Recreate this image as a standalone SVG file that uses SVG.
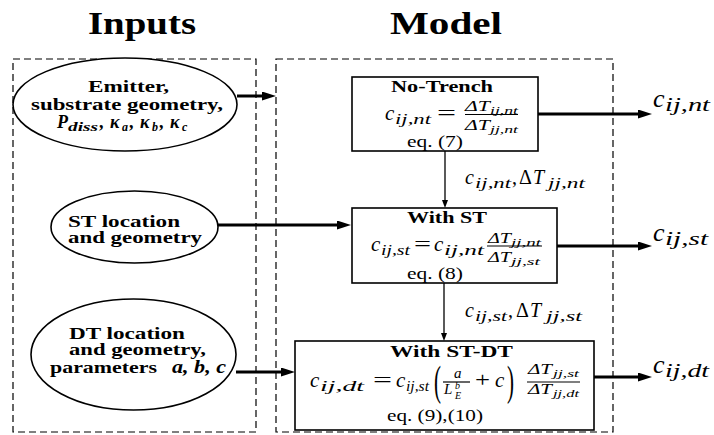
<svg xmlns="http://www.w3.org/2000/svg" width="714" height="435" viewBox="0 0 714 435" font-family="'Liberation Serif', 'DejaVu Serif', serif">
<style>
text{font-family:'Liberation Serif','DejaVu Serif','Noto Serif',Times,serif;fill:#000}
.b{font-weight:bold}
.i{font-style:italic}
.bi{font-weight:bold;font-style:italic}
.dash{fill:none;stroke:#000;stroke-width:1.2;stroke-dasharray:7 4}
.node{fill:#fff;stroke:#000;stroke-width:1.6}
.thick{stroke:#000;stroke-width:3;fill:none}
.thin{stroke:#000;stroke-width:1.3;fill:none}
.bar{stroke:#000;stroke-width:1.2}
</style>
<defs>
<marker id="ah" markerUnits="userSpaceOnUse" markerWidth="14" markerHeight="10" refX="0" refY="4.5" orient="auto">
<path d="M0,0 L14,4.5 L0,9 z" fill="#000"/>
</marker>
<marker id="ahs" markerUnits="userSpaceOnUse" markerWidth="8" markerHeight="7" refX="0" refY="3" orient="auto">
<path d="M0,0 L8,3 L0,6 z" fill="#000"/>
</marker>
</defs>

<rect width="714" height="435" fill="#fff"/>

<g id="titles">
<text class="b" x="88" y="34" font-size="32" textLength="108" lengthAdjust="spacingAndGlyphs">Inputs</text>
<text class="b" x="390" y="34" font-size="32" textLength="112" lengthAdjust="spacingAndGlyphs">Model</text>
</g>

<g id="frames">
<rect class="dash" x="13" y="59" width="243" height="373"/>
<rect class="dash" x="276" y="59" width="337" height="373"/>
</g>

<g id="in-emitter">
<ellipse class="node" cx="125" cy="104.5" rx="112" ry="46.5"/>
<text class="b" x="88" y="92" font-size="16" textLength="81" lengthAdjust="spacingAndGlyphs">Emitter,</text>
<text class="b" x="31" y="110" font-size="16" textLength="192" lengthAdjust="spacingAndGlyphs">substrate geometry,</text>
<text class="bi" x="57" y="128" font-size="18">P</text>
<text class="bi" x="68" y="131" font-size="12" textLength="30" lengthAdjust="spacingAndGlyphs">diss</text>
<text class="b" x="99" y="128" font-size="18">,</text>
<text class="bi" x="110" y="128" font-size="18">κ</text>
<text class="bi" x="122" y="131" font-size="12">a</text>
<text class="b" x="129" y="128" font-size="18">,</text>
<text class="bi" x="140" y="128" font-size="18">κ</text>
<text class="bi" x="152" y="131" font-size="12">b</text>
<text class="b" x="159" y="128" font-size="18">,</text>
<text class="bi" x="170" y="128" font-size="18">κ</text>
<text class="bi" x="182" y="131" font-size="12">c</text>
</g>

<g id="in-st">
<ellipse class="node" cx="134.5" cy="227" rx="83.5" ry="36"/>
<text class="b" x="68" y="227" font-size="16" textLength="112" lengthAdjust="spacingAndGlyphs">ST location</text>
<text class="b" x="68" y="243" font-size="16" textLength="134" lengthAdjust="spacingAndGlyphs">and geometry</text>
</g>

<g id="in-dt">
<ellipse class="node" cx="133.5" cy="354.5" rx="102.5" ry="55.5"/>
<text class="b" x="69" y="339" font-size="16" textLength="116" lengthAdjust="spacingAndGlyphs">DT location</text>
<text class="b" x="69" y="355" font-size="16" textLength="137" lengthAdjust="spacingAndGlyphs">and geometry,</text>
<text class="b" x="50" y="373" font-size="16" textLength="107" lengthAdjust="spacingAndGlyphs">parameters</text>
<text class="bi" x="172" y="373" font-size="18" textLength="54" lengthAdjust="spacingAndGlyphs">a, b, c</text>
</g>

<g id="no-trench">
<rect class="node" x="352" y="77" width="186" height="74"/>
<text class="b" x="391" y="92" font-size="17" textLength="102" lengthAdjust="spacingAndGlyphs">No-Trench</text>
<text class="i" x="385" y="120" font-size="21">c</text>
<text class="i" x="395" y="124" font-size="14" textLength="36" lengthAdjust="spacingAndGlyphs">ij,nt</text>
<text x="437" y="120" font-size="21" textLength="19" lengthAdjust="spacingAndGlyphs">=</text>
<text class="i" x="465" y="111" font-size="15" textLength="25" lengthAdjust="spacingAndGlyphs">ΔT</text>
<text class="i" x="490" y="114" font-size="11" textLength="28" lengthAdjust="spacingAndGlyphs">ij,nt</text>
<line class="bar" x1="465" y1="114.5" x2="518" y2="114.5"/>
<text class="i" x="465" y="130" font-size="15" textLength="25" lengthAdjust="spacingAndGlyphs">ΔT</text>
<text class="i" x="490" y="133" font-size="11" textLength="28" lengthAdjust="spacingAndGlyphs">jj,nt</text>
<text x="407" y="147" font-size="17" textLength="56" lengthAdjust="spacingAndGlyphs">eq.  (7)</text>
</g>

<g id="with-st">
<rect class="node" x="352" y="208" width="205" height="75"/>
<text class="b" x="407" y="223" font-size="17" textLength="80" lengthAdjust="spacingAndGlyphs">With ST</text>
<text class="i" x="371" y="251" font-size="21">c</text>
<text class="i" x="381" y="255" font-size="14" textLength="29" lengthAdjust="spacingAndGlyphs">ij,st</text>
<text x="414" y="251" font-size="21" textLength="17" lengthAdjust="spacingAndGlyphs">=</text>
<text class="i" x="434" y="251" font-size="21">c</text>
<text class="i" x="444" y="255" font-size="14" textLength="40" lengthAdjust="spacingAndGlyphs">ij,nt</text>
<text class="i" x="488" y="242.5" font-size="15" textLength="23" lengthAdjust="spacingAndGlyphs">ΔT</text>
<text class="i" x="511" y="245.5" font-size="11" textLength="30" lengthAdjust="spacingAndGlyphs">jj,nt</text>
<line class="bar" x1="487" y1="246" x2="542" y2="246"/>
<text class="i" x="488" y="261.5" font-size="15" textLength="23" lengthAdjust="spacingAndGlyphs">ΔT</text>
<text class="i" x="511" y="264.5" font-size="11" textLength="29" lengthAdjust="spacingAndGlyphs">jj,st</text>
<text x="407" y="279" font-size="17" textLength="56" lengthAdjust="spacingAndGlyphs">eq.  (8)</text>
</g>

<g id="with-st-dt">
<rect class="node" x="295" y="341" width="299" height="89"/>
<text class="b" x="390" y="357" font-size="17" textLength="123" lengthAdjust="spacingAndGlyphs">With ST-DT</text>
<text class="i" x="310" y="387" font-size="21">c</text>
<text class="i" x="320" y="391" font-size="14" textLength="44" lengthAdjust="spacingAndGlyphs">ij,dt</text>
<text x="373" y="387" font-size="21" textLength="19" lengthAdjust="spacingAndGlyphs">=</text>
<text class="i" x="396" y="387" font-size="21">c</text>
<text class="i" x="406" y="391" font-size="14" textLength="23" lengthAdjust="spacingAndGlyphs">ij,st</text>
<text x="0" y="0" font-size="42" transform="translate(434,395) scale(0.5,1)">(</text>
<text class="i" x="454" y="378" font-size="15">a</text>
<line class="bar" x1="443" y1="382" x2="470" y2="382"/>
<text class="i" x="444" y="394" font-size="15">L</text>
<text class="i" x="455" y="389" font-size="10">b</text>
<text class="i" x="455" y="399" font-size="10">E</text>
<text x="475" y="387" font-size="21" textLength="15" lengthAdjust="spacingAndGlyphs">+</text>
<text class="i" x="495" y="387" font-size="21">c</text>
<text x="0" y="0" font-size="42" transform="translate(507,395) scale(0.5,1)">)</text>
<text class="i" x="528" y="374" font-size="15" textLength="24" lengthAdjust="spacingAndGlyphs">ΔT</text>
<text class="i" x="553" y="377" font-size="11" textLength="26" lengthAdjust="spacingAndGlyphs">jj,st</text>
<line class="bar" x1="527" y1="382" x2="580" y2="382"/>
<text class="i" x="528" y="394" font-size="15" textLength="24" lengthAdjust="spacingAndGlyphs">ΔT</text>
<text class="i" x="553" y="397" font-size="11" textLength="26" lengthAdjust="spacingAndGlyphs">jj,dt</text>
<text x="387" y="421" font-size="17" textLength="96" lengthAdjust="spacingAndGlyphs">eq.  (9),(10)</text>
</g>

<g id="connectors">
<line class="thick" x1="237" y1="96" x2="262" y2="96" marker-end="url(#ah)"/>
<line class="thick" x1="218" y1="225" x2="337" y2="225" marker-end="url(#ah)"/>
<line class="thick" x1="236" y1="372" x2="281" y2="372" marker-end="url(#ah)"/>
<line class="thick" x1="538" y1="114" x2="638" y2="114" marker-end="url(#ah)"/>
<line class="thick" x1="557" y1="246" x2="638" y2="246" marker-end="url(#ah)"/>
<line class="thick" x1="594" y1="377" x2="638" y2="377" marker-end="url(#ah)"/>
<line class="thin" x1="445" y1="151" x2="445" y2="200" marker-end="url(#ahs)"/>
<line class="thin" x1="444" y1="283" x2="444" y2="333" marker-end="url(#ahs)"/>

<text class="i" x="465" y="184" font-size="20">c</text>
<text class="i" x="475" y="188" font-size="14" textLength="36" lengthAdjust="spacingAndGlyphs">ij,nt</text>
<text x="512" y="184" font-size="20">,</text>
<text x="519" y="184" font-size="20">Δ</text>
<text class="i" x="533" y="184" font-size="20">T</text>
<text class="i" x="548" y="188" font-size="14" textLength="37" lengthAdjust="spacingAndGlyphs">jj,nt</text>

<text class="i" x="465" y="317" font-size="20">c</text>
<text class="i" x="475" y="321" font-size="14" textLength="32" lengthAdjust="spacingAndGlyphs">ij,st</text>
<text x="508" y="317" font-size="20">,</text>
<text x="516" y="317" font-size="20">Δ</text>
<text class="i" x="530" y="317" font-size="20">T</text>
<text class="i" x="546" y="321" font-size="14" textLength="36" lengthAdjust="spacingAndGlyphs">jj,st</text>

<text class="i" x="653" y="107" font-size="26">c</text>
<text class="i" x="665" y="111" font-size="18" textLength="45" lengthAdjust="spacingAndGlyphs">ij,nt</text>
<text class="i" x="653" y="241" font-size="26">c</text>
<text class="i" x="665" y="245" font-size="18" textLength="43" lengthAdjust="spacingAndGlyphs">ij,st</text>
<text class="i" x="653" y="373" font-size="26">c</text>
<text class="i" x="665" y="377" font-size="18" textLength="44" lengthAdjust="spacingAndGlyphs">ij,dt</text>
</g>
</svg>
